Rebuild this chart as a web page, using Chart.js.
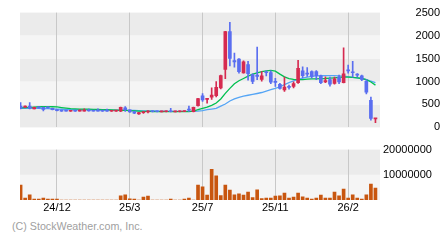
<!DOCTYPE html>
<html lang="en">
<head>
<meta charset="UTF-8">
<title>Weekly price chart</title>
<style>
  html, body { margin: 0; padding: 0; background: #fff; }
  #wrap { position: relative; width: 440px; height: 240px; overflow: hidden; }
  #priceChart { position: absolute; left: 0; top: 0; }
  #volChart { position: absolute; left: 0; top: 140px; }
  .copy { position: absolute; left: 12px; top: 220px; font: 10.7px "Liberation Sans", Arial, sans-serif; color: #a0a0a0; white-space: nowrap; }
</style>
</head>
<body>
<div id="wrap">
  <canvas id="priceChart" width="440" height="140"></canvas>
  <canvas id="volChart" width="440" height="75"></canvas>
  <div class="copy">(C) StockWeather.com, Inc.</div>
</div>
<script src="https://cdn.jsdelivr.net/npm/chart.js@4.4.1/dist/chart.umd.min.js"></script>
<script>
// weekly candles, oldest first
var openPx = [465, 438, 462, 405, 445, 435, 440, 415, 385, 370,
              362, 352, 360, 354, 356, 364, 362, 362, 360, 360,
              352, 354, 355, 425, 380, 345, 295, 320, 335, 345,
              344, 338, 340, 350, 338, 340, 342, 395, 345, 475,
              690, 612, 660, 690, 860, 1260, 2085, 1455, 1490, 1185,
              1370, 1150, 1140, 1045, 1200, 1195, 990, 940, 815, 890,
              890, 975, 1230, 1175, 1215, 1215, 1125, 990, 1040, 960,
              1095, 975, 1245, 1200, 1150, 1125, 1005, 590, 185];
var highPx = [540, 470, 540, 440, 450, 445, 445, 420, 390, 372,
              365, 362, 362, 380, 405, 400, 365, 405, 362, 400,
              362, 365, 440, 452, 385, 350, 330, 350, 368, 348,
              346, 345, 346, 415, 345, 347, 350, 465, 440, 635,
              735, 630, 860, 1000, 1140, 2090, 2290, 1620, 1500, 1450,
              1440, 1165, 1750, 1215, 1230, 1230, 1070, 960, 1095, 920,
              990, 1460, 1320, 1300, 1230, 1240, 1140, 1100, 1095, 1095,
              1140, 1735, 1355, 1440, 1170, 1140, 1040, 660, 197];
var lowPx = [405, 430, 400, 400, 420, 360, 420, 380, 360, 350,
             352, 350, 350, 352, 354, 355, 352, 352, 350, 350,
             350, 350, 340, 350, 325, 300, 285, 305, 315, 338,
             338, 336, 338, 335, 335, 338, 340, 350, 335, 465,
             565, 525, 610, 665, 840, 1060, 1340, 1310, 1180, 1180,
             1030, 950, 1040, 1005, 1120, 950, 890, 830, 785, 830,
             860, 960, 1075, 1110, 1070, 1040, 950, 975, 900, 940,
             950, 970, 1180, 1095, 1100, 1020, 730, 155, 105];
var closePx = [420, 462, 420, 435, 425, 390, 425, 385, 365, 355,
               356, 358, 354, 360, 362, 358, 356, 356, 355, 354,
               358, 362, 435, 385, 335, 310, 325, 332, 345, 341,
               340, 343, 344, 340, 343, 345, 348, 375, 435, 625,
               600, 625, 705, 875, 1130, 2085, 1500, 1425, 1215, 1430,
               1170, 1000, 1110, 1125, 1190, 985, 980, 850, 880, 870,
               955, 1285, 1125, 1160, 1110, 1125, 975, 1020, 940, 1055,
               990, 1165, 1230, 1190, 1140, 1045, 765, 195, 195];
var volume = [5900000, 800000, 2100000, 400000, 400000, 800000, 400000, 400000, 400000, 0,
              0, 0, 0, 0, 0, 0, 0, 0, 0, 0,
              0, 0, 1700000, 2100000, 500000, 400000, 0, 1200000, 1600000, 0,
              0, 0, 0, 400000, 0, 0, 400000, 800000, 0, 5900000,
              5200000, 2000000, 12200000, 9600000, 1800000, 5900000, 3900000, 2100000, 2400000, 2000000,
              3100000, 1000000, 4000000, 600000, 800000, 800000, 1600000, 1700000, 2700000, 800000,
              1200000, 2700000, 1300000, 800000, 400000, 800000, 2000000, 800000, 800000, 3100000,
              1700000, 4300000, 800000, 2100000, 800000, 400000, 2100000, 6300000, 4700000];
var maShort = [425, 430, 435, 442, 450, 452, 452, 450, 445, 432,
               420, 410, 404, 400, 398, 396, 394, 392, 388, 384,
               380, 375, 372, 370, 366, 360, 354, 350, 348, 346,
               345, 344, 343, 343, 342, 342, 342, 345, 355, 385,
               415, 440, 480, 530, 620, 740, 850, 950, 1015, 1065,
               1115, 1160, 1190, 1215, 1232, 1240, 1225, 1160, 1100, 1060,
               1045, 1042, 1042, 1050, 1055, 1058, 1062, 1065, 1072, 1080,
               1090, 1095, 1093, 1090, 1080, 1065, 1040, 990, 920];
var maLong = [415, 415, 415, 415, 413, 410, 408, 405, 400, 395,
              390, 386, 384, 382, 381, 380, 380, 379, 378, 377,
              376, 375, 374, 372, 370, 368, 365, 362, 360, 358,
              356, 354, 352, 350, 349, 348, 348, 348, 350, 355,
              365, 385, 400, 415, 465, 510, 575, 620, 655, 680,
              700, 718, 738, 760, 790, 820, 850, 885, 930, 975,
              1015, 1045, 1075, 1095, 1110, 1120, 1125, 1126, 1126, 1126,
              1124, 1115, 1105, 1090, 1078, 1065, 1040, 1010, 975];
var tickPos = [8, 24, 40, 56, 72];
var tickLabels = ['24/12', '25/3', '25/7', '25/11', '26/2'];
var priceEdges = [0, 500, 1000, 1500, 2000, 2500];
var volEdges = [0, 10000000, 20000000];
var volTicks = [10000000, 20000000];

var DARK = '#ebebeb', LIGHT = '#f5f5f5';
var UP = '#d62a50', DOWN = '#5a6ef0';
var font = { family: "'Liberation Sans', Arial, sans-serif", size: 11 };

Chart.defaults.font.family = font.family;
Chart.defaults.font.size = font.size;
Chart.defaults.color = '#000';

var idx = openPx.map(function (v, i) { return i; });
var candleCol = idx.map(function (i) { return closePx[i] >= openPx[i] ? UP : DOWN; });

// alternate shaded bands between the tick values
function bandPlugin(axisId, edges) {
    return {
        id: 'bands_' + axisId,
        beforeDraw: function (chart) {
            var ctx = chart.ctx, area = chart.chartArea, y = chart.scales[axisId];
            ctx.save();
            for (var k = 0; k < edges.length - 1; k++) {
                var top = y.getPixelForValue(edges[k + 1]);
                var bot = y.getPixelForValue(edges[k]);
                ctx.fillStyle = ((edges.length - 2 - k) % 2 === 0) ? DARK : LIGHT;
                ctx.fillRect(area.left, top, area.right - area.left, bot - top);
            }
            ctx.restore();
        }
    };
}

function xScale(showLabels) {
    return {
        type: 'linear',
        min: -0.13,
        max: 79,
        offset: false,
        afterBuildTicks: function (s) {
            s.ticks = tickPos.map(function (v) { return { value: v }; });
        },
        grid: { color: '#c8c8c8', drawTicks: false, lineWidth: 1, offset: false },
        border: { display: false },
        ticks: {
            display: showLabels,
            padding: 1,
            maxRotation: 0,
            autoSkip: false,
            color: '#000',
            callback: function (v, i) { return tickLabels[i]; }
        },
        afterFit: function (s) { s.height = showLabels ? 15 : 0; }
    };
}

new Chart(document.getElementById('priceChart'), {
    type: 'bar',
    data: {
        datasets: [
            {
                type: 'line',
                data: idx.map(function (i) { return { x: i, y: maLong[i] }; }),
                borderColor: '#55a5f5', borderWidth: 1.3, pointRadius: 0, order: 3
            },
            {
                type: 'line',
                data: idx.map(function (i) { return { x: i, y: maShort[i] }; }),
                borderColor: '#00c050', borderWidth: 1.3, pointRadius: 0, order: 2
            },
            {
                data: idx.map(function (i) { return { x: i, y: [lowPx[i], highPx[i]] }; }),
                backgroundColor: candleCol, barThickness: 1, minBarLength: 1,
                grouped: false, order: 1
            },
            {
                data: idx.map(function (i) {
                    return { x: i, y: [Math.min(openPx[i], closePx[i]), Math.max(openPx[i], closePx[i])] };
                }),
                backgroundColor: candleCol, barThickness: 3, minBarLength: 1,
                grouped: false, order: 0
            }
        ]
    },
    options: {
        responsive: false,
        animation: false,
        devicePixelRatio: 1,
        layout: { padding: { left: 20, top: 10, bottom: 10, right: 0 } },
        plugins: { legend: { display: false }, tooltip: { enabled: false } },
        scales: {
            x: xScale(false),
            y: {
                position: 'right',
                min: 0, max: 2500,
                ticks: {
                    stepSize: 500, padding: 6, crossAlign: 'far', color: '#000',
                    callback: function (v) { return String(v); }
                },
                grid: { display: false, drawTicks: false },
                border: { display: false },
                afterFit: function (s) { s.width = 60; }
            }
        }
    },
    plugins: [bandPlugin('y', priceEdges)]
});

new Chart(document.getElementById('volChart'), {
    type: 'bar',
    data: {
        datasets: [{
            data: idx.map(function (i) { return { x: i, y: volume[i] }; }),
            backgroundColor: '#c8560f', barThickness: 3
        }]
    },
    options: {
        responsive: false,
        animation: false,
        devicePixelRatio: 1,
        layout: { padding: { left: 20, top: 9, bottom: 0, right: 0 } },
        plugins: { legend: { display: false }, tooltip: { enabled: false } },
        scales: {
            x: xScale(true),
            y: {
                position: 'right',
                min: 0, max: 20000000,
                afterBuildTicks: function (s) {
                    s.ticks = volTicks.map(function (v) { return { value: v }; });
                },
                ticks: {
                    padding: 3, color: '#000',
                    callback: function (v) { return String(v); }
                },
                grid: { display: false, drawTicks: false },
                border: { display: false },
                afterFit: function (s) { s.width = 60; }
            }
        }
    },
    plugins: [bandPlugin('y', volEdges)]
});
</script>
</body>
</html>
